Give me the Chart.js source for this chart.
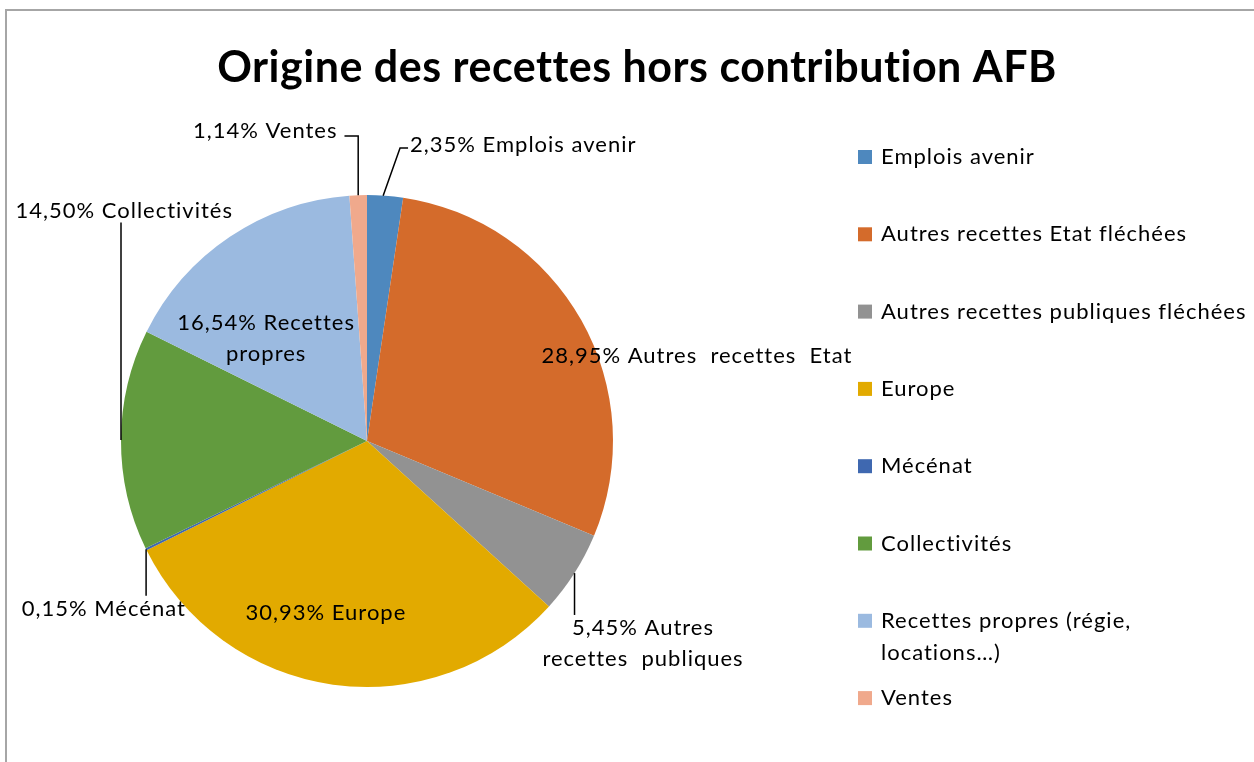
<!DOCTYPE html>
<html lang="fr">
<head>
<meta charset="UTF-8">
<title>Origine des recettes hors contribution AFB</title>
<script src="https://cdn.jsdelivr.net/npm/chart.js"></script>
<style>
    html, body { margin: 0; padding: 0; background: #fff; }
    #wrap { position: relative; width: 1254px; height: 762px; }
</style>
</head>
<body>
<div id="wrap"><canvas id="pie" width="1254" height="762"></canvas></div>
<script>
// données
const titre = 'Origine des recettes hors contribution AFB';
const categories = [
    'Emplois avenir',
    'Autres recettes Etat fléchées',
    'Autres recettes publiques fléchées',
    'Europe',
    'Mécénat',
    'Collectivités',
    'Recettes propres (régie, locations…)',
    'Ventes'
];
const valeurs = [2.35, 28.95, 5.45, 30.93, 0.15, 14.50, 16.54, 1.14];
const couleurs = ['#4e88be', '#d46b2b', '#929292', '#e2aa00', '#3f68b0', '#629b3e', '#9bbae0', '#f0a98c'];
// textes des étiquettes (valeur + nom court)
const etiquettes = [
    ['Emplois avenir'],
    ['Autres  recettes  Etat'],
    ['Autres', 'recettes  publiques'],
    ['Europe'],
    ['Mécénat'],
    ['Collectivités'],
    ['Recettes', 'propres'],
    ['Ventes']
];

const FONT = 'Lato, "Open Sans", sans-serif';

function pct(v) {
    return v.toFixed(2).replace('.', ',') + '%';
}

// placement des étiquettes, en rayons depuis le centre
// type: 'in' = texte seul, sinon ligne de rappel
const place = [
    { type: 'diag', dx: 0.175, dy: -1.203, align: 'left' },
    { type: 'in', dx: 1.341, dy: -0.346, align: 'center' },
    { type: 'down', dx: 1.122, dy: 0.76, align: 'center', two: true },
    { type: 'in', dx: -0.167, dy: 0.699, align: 'center' },
    { type: 'down', dx: -1.07, dy: 0.682, align: 'center' },
    { type: 'up', dx: -0.987, dy: -0.937, align: 'center' },
    { type: 'in', dx: -0.41, dy: -0.48, align: 'center', two: true },
    { type: 'ventes', dx: -0.12, dy: -1.26, align: 'right' }
];

const decor = {
    id: 'decor',
    beforeDraw(chart) {
        const ctx = chart.ctx;
        ctx.save();
        ctx.fillStyle = '#fff';
        ctx.fillRect(0, 0, chart.width, chart.height);
        ctx.strokeStyle = '#a6a6a6';
        ctx.lineWidth = 2;
        ctx.beginPath();
        ctx.moveTo(6, chart.height);
        ctx.lineTo(6, 10);
        ctx.lineTo(chart.width, 10);
        ctx.stroke();
        // titre
        ctx.fillStyle = '#000';
        ctx.font = 'bold 43px ' + FONT;
        ctx.letterSpacing = '0.5px';
        ctx.textAlign = 'center';
        ctx.textBaseline = 'middle';
        ctx.fillText(titre, 637, 68);
        ctx.restore();
    },
    afterDraw(chart) {
        const ctx = chart.ctx;
        const meta = chart.getDatasetMeta(0);
        const arc0 = meta.data[0];
        const cx = arc0.x, cy = arc0.y, r = arc0.outerRadius;
        ctx.save();
        ctx.fillStyle = '#000';
        ctx.strokeStyle = '#000';
        ctx.lineWidth = 1.5;
        ctx.font = '22px ' + FONT;
        ctx.letterSpacing = '1px';
        ctx.textBaseline = 'middle';

        meta.data.forEach((arc, i) => {
            const p = place[i];
            const mid = (arc.startAngle + arc.endAngle) / 2;
            const ex = cx + Math.cos(mid) * r;
            const ey = cy + Math.sin(mid) * r;
            const tx = cx + p.dx * r;
            const ty = cy + p.dy * r;
            let lines;
            if (p.two) {
                lines = [pct(valeurs[i]) + ' ' + etiquettes[i][0], etiquettes[i][1]];
            } else {
                lines = [pct(valeurs[i]) + ' ' + etiquettes[i][0]];
            }
            ctx.textAlign = p.align;
            lines.forEach((l, k) => ctx.fillText(l, tx, ty + k * 31));

            ctx.beginPath();
            if (p.type === 'diag') {
                ctx.moveTo(ex - 2, ey);
                ctx.lineTo(tx - 10, ty + 3);
                ctx.lineTo(tx - 2, ty + 3);
            } else if (p.type === 'ventes') {
                ctx.moveTo(ex, ey);
                ctx.lineTo(ex, ty + 5);
                ctx.lineTo(tx + 7, ty + 5);
            } else if (p.type === 'up') {
                ctx.moveTo(ex, ey);
                ctx.lineTo(ex, ty + 12);
            } else if (p.type === 'down') {
                ctx.moveTo(ex, ey);
                ctx.lineTo(ex, ty - 13);
            }
            if (p.type !== 'in') ctx.stroke();
        });

        // légende à droite
        ctx.textAlign = 'left';
        const lx = 858, tx = 881, maxW = chart.width - tx - 1;
        categories.forEach((c, i) => {
            const y = 157 + i * 77.3;
            ctx.fillStyle = couleurs[i];
            ctx.fillRect(lx, y - 7, 14, 14);
            ctx.fillStyle = '#000';
            // retour à la ligne si trop long
            const words = c.split(' ');
            let line = '', yy = y;
            words.forEach(w => {
                const test = line ? line + ' ' + w : w;
                if (ctx.measureText(test).width > maxW && line) {
                    ctx.fillText(line, tx, yy);
                    line = w;
                    yy += 32;
                } else {
                    line = test;
                }
            });
            ctx.fillText(line, tx, yy);
        });
        ctx.restore();
    }
};

new Chart(document.getElementById('pie'), {
    type: 'pie',
    data: {
        labels: categories,
        datasets: [{
            data: valeurs,
            backgroundColor: couleurs,
            borderWidth: 0
        }]
    },
    options: {
        responsive: false,
        animation: false,
        layout: { padding: { left: 121, right: 641, top: 195, bottom: 75 } },
        plugins: {
            legend: { display: false },
            tooltip: { enabled: false },
            title: { display: false }
        }
    },
    plugins: [decor]
});
</script>
</body>
</html>
